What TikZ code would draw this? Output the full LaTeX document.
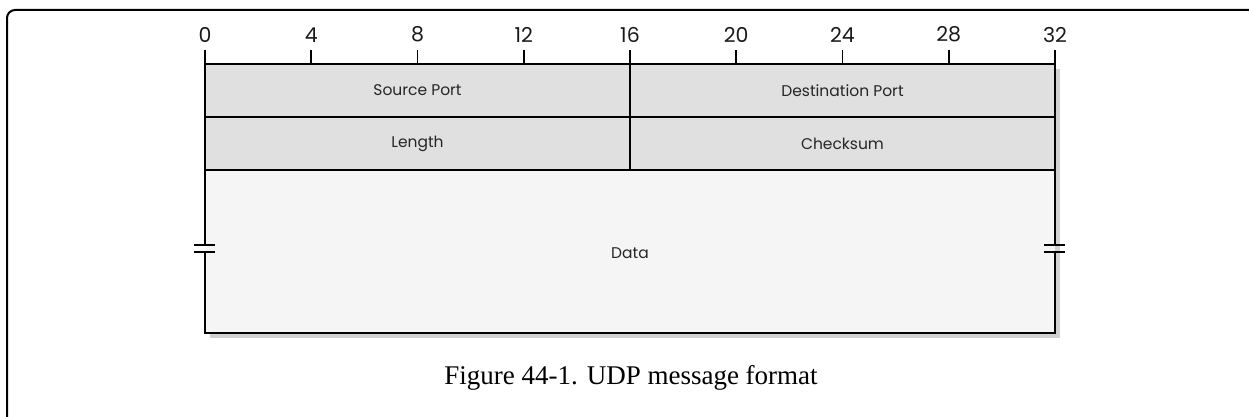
\documentclass[tikz,border=0pt]{standalone}
\usepackage{fontspec}
\setmainfont{Liberation Serif}
\newfontfamily\figfont{Poppins}
\usetikzlibrary{calc}

\begin{document}
\begin{tikzpicture}[x=1pt,y=1pt,
    field/.style={font=\figfont\fontsize{15.5}{18}\selectfont, text=black!85},
    bitnum/.style={font=\figfont\fontsize{20.5}{23}\selectfont, text=black!90, inner sep=1pt}]
    \useasboundingbox (0,0) rectangle (1249,417);
    \def\xo{205}      % left edge of the message
    \def\bw{26.5625}  % width of one bit
    \def\ytop{353}
    \def\yrow{53}     % height of one header row
    \def\ybot{84}
    % outer frame
    \draw[line width=2pt, rounded corners=8] (7,0) -- (7,407) -- (1249,407);
    % shadow and fills
    \fill[black!18] (\xo+5,\ybot-5) rectangle (\xo+32*\bw+5,\ytop-5);
    \fill[black!12] (\xo,\ytop-2*\yrow) rectangle (\xo+32*\bw,\ytop);
    \fill[black!4] (\xo,\ybot) rectangle (\xo+32*\bw,\ytop-2*\yrow);
    % header rows
    \draw[line width=1.3pt] (\xo,\ytop-\yrow) -- (\xo+32*\bw,\ytop-\yrow);
    \draw[line width=1.3pt] (\xo,\ytop-2*\yrow) -- (\xo+32*\bw,\ytop-2*\yrow);
    \draw[line width=1.3pt] (\xo+16*\bw,\ytop) -- (\xo+16*\bw,\ytop-2*\yrow);
    % border, broken on both sides
    \draw[line width=2.2pt] (\xo,172) -- (\xo,\ytop) -- (\xo+32*\bw,\ytop) -- (\xo+32*\bw,172);
    \draw[line width=2.2pt] (\xo,165) -- (\xo,\ybot) -- (\xo+32*\bw,\ybot) -- (\xo+32*\bw,165);
    \foreach \x in {\xo, \xo+32*\bw} {
        \draw[line width=1.8pt] (\x-11,172) -- (\x+10,172);
        \draw[line width=1.8pt] (\x-11,165) -- (\x+10,165);
    };
    % bit ruler
    \foreach \b in {0,4,...,32} {
        \draw[line width=1.6pt] (\xo+\b*\bw,\ytop) -- ++(0,14) node[above=6pt, bitnum] (n\b) {\b};
    };
    % field names
    \node[field] (src) at (\xo+8*\bw,\ytop-0.5*\yrow) {Source Port};
    \node[field] (dst) at (\xo+24*\bw,\ytop-0.5*\yrow) {Destination Port};
    \node[field] (len) at (\xo+8*\bw,\ytop-1.5*\yrow) {Length};
    \node[field] (chk) at (\xo+24*\bw,\ytop-1.5*\yrow) {Checksum};
    \node[field] (data) at (\xo+16*\bw,164) {Data};
    % caption
    \node[font=\fontsize{27}{31}\selectfont] (cap) at (631,39) {Figure 44-1. UDP message format};
\end{tikzpicture}
\end{document}
